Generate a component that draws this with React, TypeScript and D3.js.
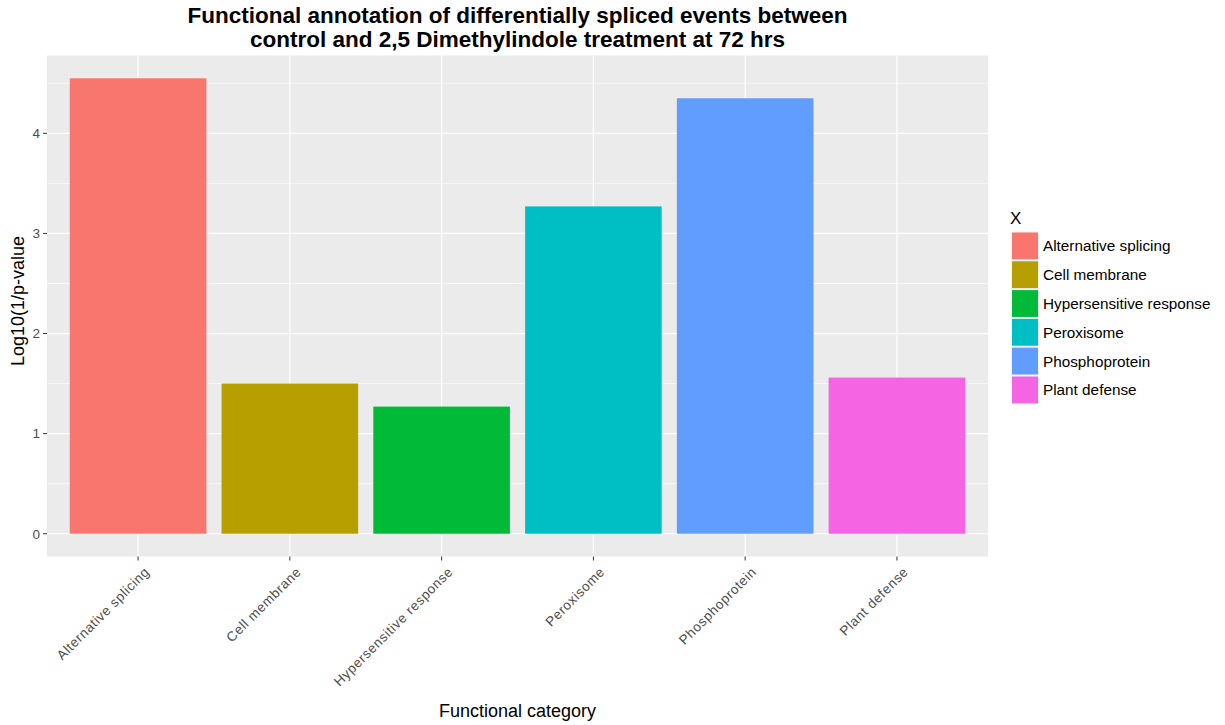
import React from "react";
import * as d3 from "d3";

const categories = [
  "Alternative splicing",
  "Cell membrane",
  "Hypersensitive response",
  "Peroxisome",
  "Phosphoprotein",
  "Plant defense",
];
const values = [4.55, 1.5, 1.27, 3.27, 4.35, 1.56];
const colors = ["#F8766D", "#B79F00", "#00BA38", "#00BFC4", "#619CFF", "#F564E3"];
const yTicks = [0, 1, 2, 3, 4];
const yMinor = [0.5, 1.5, 2.5, 3.5, 4.5];
const titleLines = [
  "Functional annotation of differentially spliced events between",
  "control and 2,5 Dimethylindole treatment at 72 hrs",
];

const W = 1225;
const H = 725;
const P = { left: 47, right: 988, top: 55.5, bottom: 556.5 };
const FONT = "'Liberation Sans', Arial, sans-serif";

export default function App() {
  const maxV = d3.max(values) as number;
  const pad = maxV * 0.05;
  const y = d3.scaleLinear().domain([-pad, maxV + pad]).range([P.bottom, P.top]);
  const n = categories.length;
  const xLin = d3.scaleLinear().domain([0.4, n + 0.6]).range([P.left, P.right]);
  const xc = (i: number) => xLin(i + 1);
  const bw = xLin(0.9) - xLin(0);

  return (
    <svg width={W} height={H} style={{ position: "absolute", left: 0, top: 0, background: "#fff" }} fontFamily={FONT}>
      <rect x={P.left} y={P.top} width={P.right - P.left} height={P.bottom - P.top} fill="#EBEBEB" />
      {yMinor.map((t) => (
        <line key={"ym" + t} x1={P.left} x2={P.right} y1={y(t)} y2={y(t)} stroke="#fff" strokeWidth={0.6} />
      ))}
      {yTicks.map((t) => (
        <line key={"y" + t} x1={P.left} x2={P.right} y1={y(t)} y2={y(t)} stroke="#fff" strokeWidth={1.2} />
      ))}
      {categories.map((c, i) => (
        <line key={"xg" + c} x1={xc(i)} x2={xc(i)} y1={P.top} y2={P.bottom} stroke="#fff" strokeWidth={1.2} />
      ))}
      {categories.map((c, i) => (
        <rect
          key={"b" + c}
          x={xc(i) - bw / 2}
          y={y(values[i])}
          width={bw}
          height={y(0) - y(values[i])}
          fill={colors[i]}
        />
      ))}
      {/* y axis ticks */}
      {yTicks.map((t) => (
        <g key={"yt" + t}>
          <line x1={P.left - 4} x2={P.left} y1={y(t)} y2={y(t)} stroke="#333" strokeWidth={1} />
          <text x={P.left - 7} y={y(t)} dy="0.36em" textAnchor="end" fontSize={13.5} fill="#4D4D4D">
            {t}
          </text>
        </g>
      ))}
      {/* x axis ticks */}
      {categories.map((c, i) => (
        <g key={"xt" + c}>
          <line x1={xc(i)} x2={xc(i)} y1={P.bottom} y2={P.bottom + 4} stroke="#333" strokeWidth={1} />
          <text
            transform={`translate(${xc(i) + 5},${P.bottom + 9}) rotate(-45)`}
            textAnchor="end"
            dy="0.75em"
            fontSize={13.5}
            letterSpacing={0.6}
            fill="#4D4D4D"
          >
            {c}
          </text>
        </g>
      ))}
      {/* titles */}
      {titleLines.map((l, i) => (
        <text
          key={"t" + i}
          x={(P.left + P.right) / 2}
          y={23 + i * 24}
          textAnchor="middle"
          fontSize={22.5}
          fontWeight="bold"
          fill="#000"
        >
          {l}
        </text>
      ))}
      <text x={(P.left + P.right) / 2} y={717} textAnchor="middle" fontSize={18} fill="#000">
        Functional category
      </text>
      <text
        transform={`translate(24,${(P.top + P.bottom) / 2 - 5}) rotate(-90)`}
        textAnchor="middle"
        fontSize={18}
        fill="#000"
      >
        Log10(1/p-value
      </text>
      {/* legend */}
      <text x={1010} y={224} fontSize={17} fill="#000">
        X
      </text>
      {categories.map((c, i) => (
        <g key={"lg" + c}>
          <rect x={1011} y={231.5 + i * 28.8} width={28} height={28.8} fill="#F2F2F2" />
          <rect x={1012} y={232.5 + i * 28.8} width={26} height={26.8} fill={colors[i]} />
          <text x={1043} y={246 + i * 28.8} dy="0.35em" fontSize={15.3} fill="#000">
            {c}
          </text>
        </g>
      ))}
    </svg>
  );
}
